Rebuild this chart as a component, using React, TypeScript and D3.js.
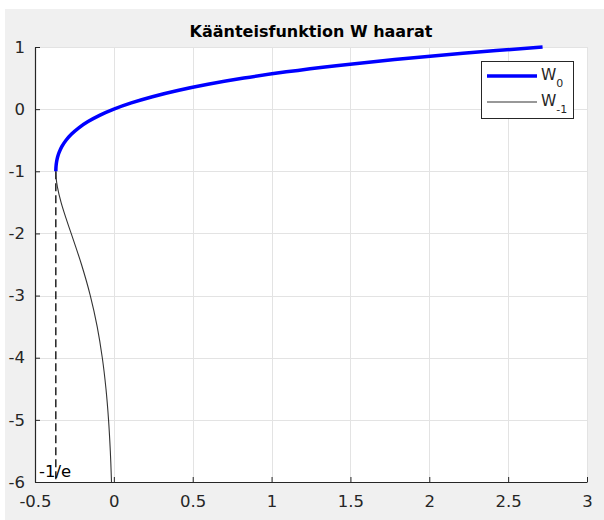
import React, { useEffect, useRef } from "react";
import * as d3 from "d3";

// values: [x, W]
const w0Points: [number, number][] = [
  [-0.3679, -1], [-0.3674, -0.95], [-0.3659, -0.9], [-0.3633, -0.85], [-0.3595, -0.8],
  [-0.3543, -0.75], [-0.3476, -0.7], [-0.3293, -0.6], [-0.3033, -0.5], [-0.2681, -0.4],
  [-0.2222, -0.3], [-0.1637, -0.2], [-0.0905, -0.1], [0, 0], [0.1105, 0.1],
  [0.2443, 0.2], [0.405, 0.3], [0.5967, 0.4], [0.8244, 0.5], [1.0933, 0.6],
  [1.4096, 0.7], [1.7804, 0.8], [2.2136, 0.9], [2.7183, 1.0],
];
const wm1Points: [number, number][] = [
  [-0.3679, -1], [-0.3662, -1.1], [-0.3581, -1.25], [-0.3347, -1.5], [-0.3041, -1.75],
  [-0.2707, -2], [-0.2052, -2.5], [-0.1494, -3], [-0.1057, -3.5], [-0.0733, -4],
  [-0.05, -4.5], [-0.0337, -5], [-0.0225, -5.5], [-0.0149, -6],
];
const xTicks = [-0.5, 0, 0.5, 1, 1.5, 2, 2.5, 3];
const yTicks = [1, 0, -1, -2, -3, -4, -5, -6];
const branchPoint = -0.3679;
const title = "Käänteisfunktion W haarat";

const App = () => {
  const svgRef = useRef<SVGSVGElement>(null);

  useEffect(() => {
    const svg = d3.select(svgRef.current);
    svg.selectAll("*").remove();

    const width = 604;
    const height = 520;
    const margin = { top: 47, right: 17, bottom: 38, left: 35 };
    const font = "'DejaVu Sans', sans-serif";
    const axisColor = "#262626";

    svg.append("rect").attr("width", width).attr("height", height).attr("fill", "#fff");
    svg.append("rect").attr("x", 5).attr("y", 9).attr("width", width - 5).attr("height", height - 9).attr("fill", "#f0f0f0");

    const x = d3.scaleLinear().domain([-0.5, 3]).range([margin.left, width - margin.right]);
    const y = d3.scaleLinear().domain([-6, 1]).range([height - margin.bottom, margin.top]);

    svg.append("rect")
      .attr("x", x(-0.5)).attr("y", y(1))
      .attr("width", x(3) - x(-0.5)).attr("height", y(-6) - y(1))
      .attr("fill", "#fff");

    // grid
    const grid = svg.append("g").attr("stroke", "#e3e3e3").attr("stroke-width", 1);
    grid.selectAll("line.gx").data(xTicks).join("line")
      .attr("x1", (d) => Math.round(x(d)) + 0.5).attr("x2", (d) => Math.round(x(d)) + 0.5)
      .attr("y1", y(1)).attr("y2", y(-6));
    grid.selectAll("line.gy").data(yTicks).join("line")
      .attr("y1", (d) => Math.round(y(d)) + 0.5).attr("y2", (d) => Math.round(y(d)) + 0.5)
      .attr("x1", x(-0.5)).attr("x2", x(3));

    // dashed line at -1/e
    svg.append("line")
      .attr("x1", x(branchPoint)).attr("x2", x(branchPoint))
      .attr("y1", y(-1)).attr("y2", y(-6))
      .attr("stroke", "#000").attr("stroke-width", 1.3)
      .attr("stroke-dasharray", "8,4");

    const line = d3.line<[number, number]>()
      .x((d) => x(d[0]))
      .y((d) => y(d[1]))
      .curve(d3.curveCatmullRom);

    svg.append("path").attr("d", line(wm1Points))
      .attr("fill", "none").attr("stroke", "#333").attr("stroke-width", 1.1);
    svg.append("path").attr("d", line(w0Points))
      .attr("fill", "none").attr("stroke", "#0000ff").attr("stroke-width", 3.5);

    // axes
    const xAxis = svg.append("g")
      .attr("transform", `translate(0, ${y(-6)})`)
      .call(d3.axisBottom(x).tickValues(xTicks).tickSizeInner(-5).tickSizeOuter(0).tickPadding(13).tickFormat(d3.format("")));
    const yAxis = svg.append("g")
      .attr("transform", `translate(${x(-0.5)}, 0)`)
      .call(d3.axisLeft(y).tickValues(yTicks).tickSizeInner(-5).tickSizeOuter(0).tickPadding(10).tickFormat(d3.format("")));
    [xAxis, yAxis].forEach((a) => {
      a.select(".domain").attr("stroke", axisColor).attr("stroke-width", 1.2);
      a.selectAll(".tick line").attr("stroke", axisColor);
      a.selectAll(".tick text").attr("fill", axisColor).attr("font-size", 16.5).attr("font-family", font);
    });
    xAxis.selectAll(".tick text").text((d: any) => (d < 0 ? "-" + Math.abs(d) : String(d)));
    yAxis.selectAll(".tick text").text((d: any) => (d < 0 ? "-" + Math.abs(d) : String(d)));

    svg.append("text")
      .attr("x", x(-0.475)).attr("y", y(-6) - 5)
      .attr("font-size", 16.5).attr("font-family", font).attr("fill", "#000")
      .text("-1/e");

    svg.append("text")
      .attr("x", (x(-0.5) + x(3)) / 2).attr("y", 37)
      .attr("text-anchor", "middle").attr("font-size", 16).attr("font-weight", "bold")
      .attr("font-family", font).attr("fill", "#000")
      .text(title);

    // legend
    const lg = svg.append("g");
    lg.append("rect").attr("x", 481.5).attr("y", 61.5).attr("width", 92).attr("height", 57)
      .attr("fill", "#fff").attr("stroke", axisColor).attr("stroke-width", 1);
    lg.append("line").attr("x1", 487).attr("x2", 537).attr("y1", 76).attr("y2", 76)
      .attr("stroke", "#0000ff").attr("stroke-width", 3.5);
    lg.append("line").attr("x1", 487).attr("x2", 537).attr("y1", 102).attr("y2", 102)
      .attr("stroke", "#333").attr("stroke-width", 1.1);
    const t0 = lg.append("text").attr("x", 541).attr("y", 80).attr("font-size", 15.5).attr("font-family", font).attr("fill", axisColor);
    t0.append("tspan").text("W");
    t0.append("tspan").attr("dy", 7).attr("font-size", 11).text("0");
    const t1 = lg.append("text").attr("x", 541).attr("y", 106).attr("font-size", 15.5).attr("font-family", font).attr("fill", axisColor);
    t1.append("tspan").text("W");
    t1.append("tspan").attr("dy", 7).attr("font-size", 11).text("-1");
  }, []);

  return (
    <svg ref={svgRef} width={604} height={520} style={{ position: "absolute", left: 0, top: 0 }} />
  );
};

export default App;
